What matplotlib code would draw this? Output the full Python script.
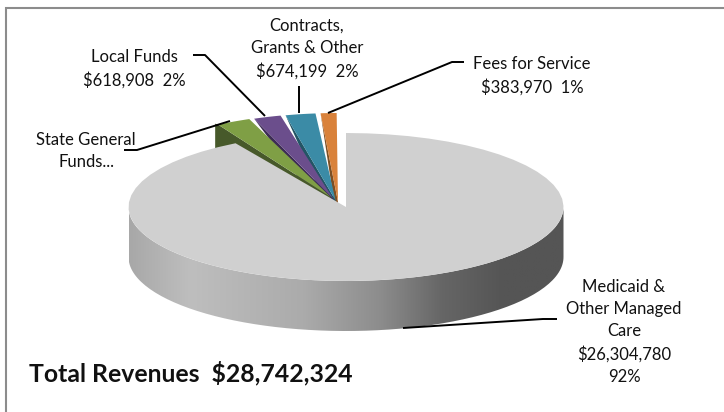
import numpy as np
import matplotlib
matplotlib.use("Agg")
import matplotlib.pyplot as plt
from matplotlib.colors import LinearSegmentedColormap
from matplotlib.patches import PathPatch, Polygon
from matplotlib.path import Path

plt.rcParams['font.family'] = ['Lato', 'DejaVu Sans']

# revenue by source, clockwise from 12 o'clock
sources = ["Medicaid", "State General Funds", "Local Funds", "Contracts", "Fees for Service"]
revenues = [26304780, 760467, 618908, 674199, 383970]
top_colors = ["#d0d0d0", "#7f9f45", "#6b4e8c", "#3b8ba6", "#d9823b"]
cut_colors = ["#d0d0d0", "#47592a", "#3d2c55", "#235565", "#7d4f23"]

labels = [
    ("Medicaid &\nOther Managed\nCare\n$26,304,780\n92%", 624, 332),
    ("State General\nFunds...", 86, 151),
    ("Local Funds\n$618,908  2%", 134, 69),
    ("Contracts,\nGrants & Other\n$674,199  2%", 307, 48.5),
    ("Fees for Service\n$383,970  1%", 532, 76),
]
leaders = [
    ([557, 543, 403], [319, 319, 328]),
    ([124, 137, 230], [150, 150, 121]),
    ([193, 205, 265], [55, 55, 116]),
    ([299, 299], [86, 113]),
    ([464, 452, 328], [62, 62, 113]),
]


def ellipse_point(t, cx, cy, rx, ry):
    return cx + rx * np.sin(t), cy - ry * np.cos(t)


def slice_outline(a0, a1, cx, cy, rx, ry):
    t = np.linspace(a0, a1, 60)
    x, y = ellipse_point(t, cx, cy, rx, ry)
    return np.r_[cx, x], np.r_[cy, y]


fig = plt.figure(figsize=(7.24, 4.12), dpi=100)
ax = fig.add_axes([0, 0, 1, 1])
ax.set_xlim(0, 724)
ax.set_ylim(412, 0)
ax.axis("off")

# only the left and top of the frame fall inside the image
ax.plot([6, 6, 724], [412, 8, 8], color="#8c8c8c", lw=1.5, solid_joinstyle="miter")

values = np.array(revenues, dtype=float)
edges = np.r_[0, np.cumsum(values)] / values.sum() * 2 * np.pi

# pulled-out slices, back to front so the cut faces overlap properly
small_rx = 224
small_depth = 26
for i in [4, 3, 2, 1]:
    a0, a1 = edges[i], edges[i + 1]
    k = 4 - i
    cx = 338 - 2.4 * k
    cy = 202 - 1.6 * k
    ry = 89 - 1.7 * k
    x, y = slice_outline(a0 + 0.006, a1 - 0.006, cx, cy, small_rx, ry)
    corner = (x[1], y[1])
    if i == 1:
        # this one shows its whole cut face, a bit wider than the slice
        face = [corner, (corner[0] - 3, corner[1] - 1), (corner[0] - 3, corner[1] + small_depth),
                (cx, cy + small_depth), (cx, cy)]
    else:
        face = [corner, (cx, cy + small_depth), (cx, cy)]
    ax.add_patch(Polygon(face, closed=True, fc=cut_colors[i], ec="none", zorder=2))
    ax.add_patch(Polygon(np.c_[x, y], closed=True, fc=top_colors[i], ec="none", zorder=2))

# large slice
cx = 346
cy = 207
rx = 217.5
ry = 74
depth = 50

# outer wall with a horizontal shading
t = np.linspace(np.pi / 2, 3 * np.pi / 2, 120)
x_top, y_top = ellipse_point(t, cx, cy, rx, ry)
wall = np.r_[np.c_[x_top, y_top], np.c_[x_top[::-1], y_top[::-1] + depth]]
wall_clip = PathPatch(Path(np.r_[wall, wall[:1]]), fc="none", ec="none", transform=ax.transData)
ax.add_patch(wall_clip)
shade = LinearSegmentedColormap.from_list("wall", [
    (0.00, "#a8a8a8"), (0.14, "#bebebe"), (0.40, "#ababab"), (0.58, "#8c8c8c"),
    (0.72, "#666666"), (0.86, "#555555"), (1.00, "#555555")])
im = ax.imshow(np.linspace(0, 1, 256)[None, :], cmap=shade, aspect="auto",
               extent=(cx - rx, cx + rx, cy + ry + depth, cy), zorder=3)
im.set_clip_path(wall_clip)
ax.set_xlim(0, 724)
ax.set_ylim(412, 0)

x, y = slice_outline(edges[0], edges[1], cx, cy, rx, ry)
ax.add_patch(Polygon(np.c_[x, y], closed=True, fc=top_colors[0], ec="none", zorder=4))

for lx, ly in leaders:
    ax.plot(lx, ly, color="black", lw=1.4, zorder=5, solid_capstyle="butt")

for text, tx, ty in labels:
    ax.text(tx, ty, text, ha="center", va="center", ma="center", fontsize=12,
            color="#111111", linespacing=1.47, zorder=6)

ax.text(29, 373, "Total Revenues  $28,742,324", ha="left", va="center", fontsize=17.8,
        fontweight="bold", color="#111111", zorder=6)

fig.savefig("out.png", dpi=100)
